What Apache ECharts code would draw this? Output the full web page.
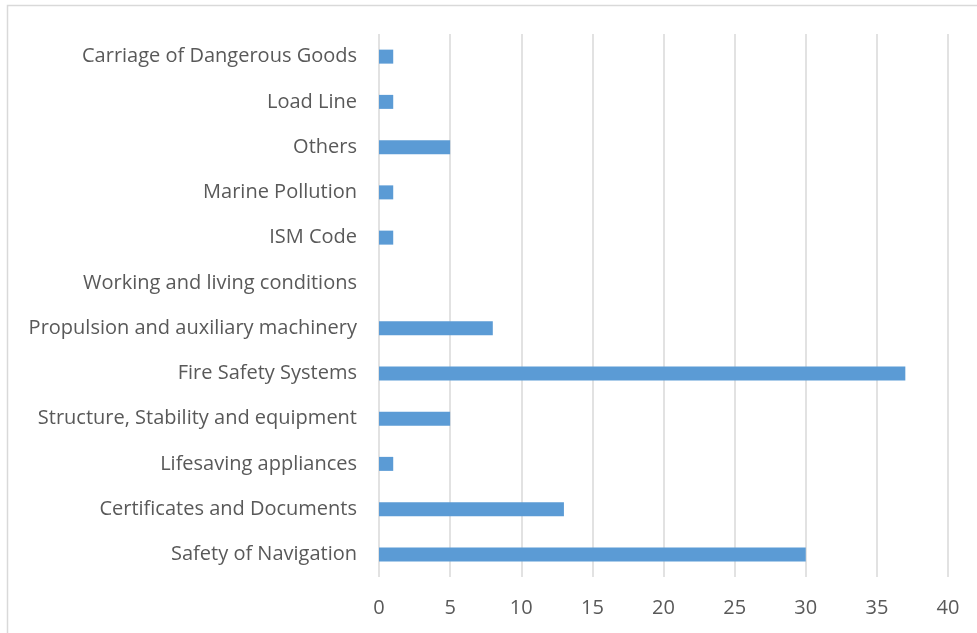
<!DOCTYPE html>
<html>
<head>
<meta charset="utf-8">
<script src="https://cdn.jsdelivr.net/npm/echarts@6/dist/echarts.min.js"></script>
<style>
  html, body { margin: 0; padding: 0; background: #ffffff; }
  #chart { width: 977px; height: 633px; }
</style>
</head>
<body>
<div id="chart"></div>
<script>
// Deficiency categories, listed bottom to top
const categories = [
  'Safety of Navigation',
  'Certificates and Documents',
  'Lifesaving appliances',
  'Structure, Stability and equipment',
  'Fire Safety Systems',
  'Propulsion and auxiliary machinery',
  'Working and living conditions',
  'ISM Code',
  'Marine Pollution',
  'Others',
  'Load Line',
  'Carriage of Dangerous Goods'
];
const counts = [30, 13, 1, 5, 37, 8, 0, 1, 1, 5, 1, 1];
const axisMin = 0;
const axisMax = 40;
const axisStep = 5;

const chart = echarts.init(document.getElementById('chart'), null, { renderer: 'canvas' });
const textColor = '#595959';
const gridColor = '#d9d9d9';
const fontFamily = '"Open Sans", "Noto Sans", sans-serif';

chart.setOption({
  backgroundColor: '#ffffff',
  animation: false,
  graphic: [{
    type: 'rect',
    silent: true,
    shape: { x: 7.5, y: 5.5, width: 1100, height: 1100 },
    style: { fill: 'none', stroke: gridColor, lineWidth: 1.5 }
  }],
  grid: { left: 379, right: 29, top: 34, bottom: 56, containLabel: false },
  xAxis: {
    type: 'value',
    min: axisMin,
    max: axisMax,
    interval: axisStep,
    axisLine: { show: false },
    axisTick: { show: false },
    splitLine: { show: true, lineStyle: { color: gridColor, width: 1.5 } },
    axisLabel: { color: textColor, fontSize: 20, fontFamily: fontFamily, margin: 21 }
  },
  yAxis: {
    type: 'category',
    data: categories,
    axisLine: { show: false },
    axisTick: { show: false },
    splitLine: { show: false },
    axisLabel: {
      color: textColor, fontSize: 20, fontFamily: fontFamily, margin: 22,
      padding: [4, 0, 0, 0]
    }
  },
  series: [{
    type: 'bar',
    data: counts,
    barWidth: 14,
    itemStyle: { color: '#5b9bd5' }
  }]
});
</script>
</body>
</html>
